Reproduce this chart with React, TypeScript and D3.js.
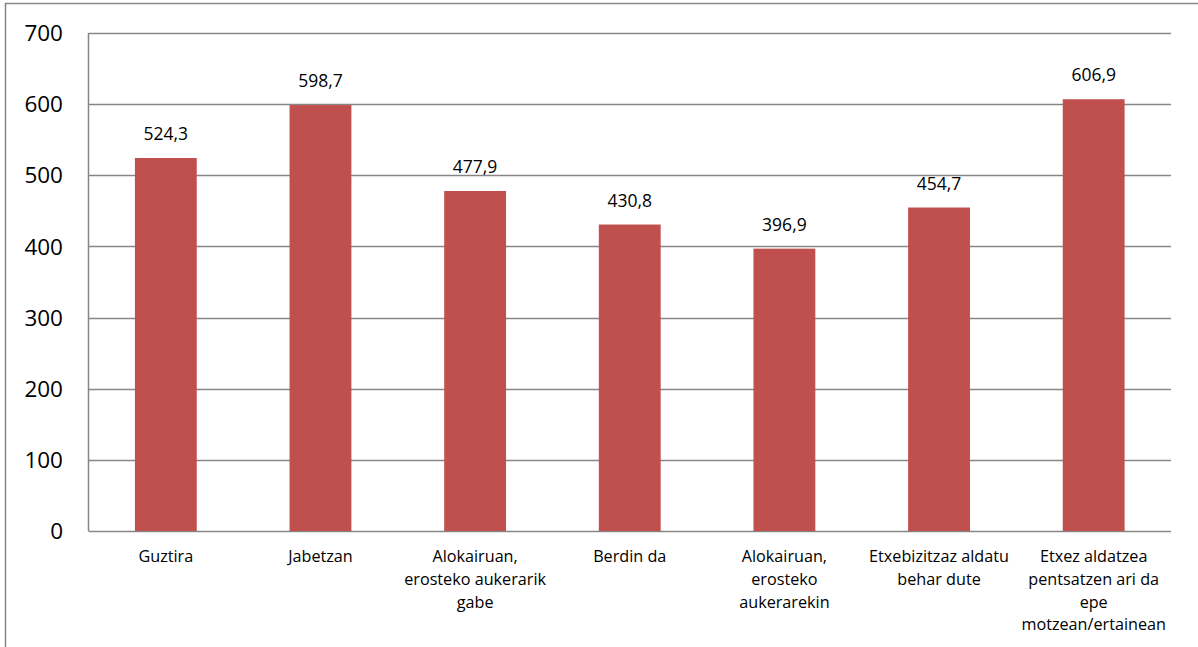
import React from "react";
import * as d3 from "d3";

const categories: string[][] = [
  ["Guztira"],
  ["Jabetzan"],
  ["Alokairuan,", "erosteko aukerarik", "gabe"],
  ["Berdin da"],
  ["Alokairuan,", "erosteko", "aukerarekin"],
  ["Etxebizitzaz aldatu", "behar dute"],
  ["Etxez aldatzea", "pentsatzen ari da", "epe", "motzean/ertainean"],
];
const values: number[] = [524.3, 598.7, 477.9, 430.8, 396.9, 454.7, 606.9];
const yTicks: number[] = [0, 100, 200, 300, 400, 500, 600, 700];

const W = 1198;
const H = 647;
const left = 88.5;
const right = 1171;
const top = 33;
const bottom = 531;
const font = "'Open Sans', sans-serif";

export default function App() {
  const idx = categories.map((_, i) => String(i));
  const x = d3.scaleBand<string>().domain(idx).range([left, right]).paddingInner(0.6).paddingOuter(0.3);
  const xc = d3.scaleBand<string>().domain(idx).range([left, right]);
  const y = d3.scaleLinear().domain([0, 700]).range([bottom, top]);
  const fmt = (v: number) => v.toFixed(1).replace(".", ",");
  return (
    <svg width={W} height={H} style={{ position: "absolute", left: 0, top: 0 }}>
      <rect x={0} y={0} width={W} height={H} fill="#fff" />
      <rect x={5.5} y={3.5} width={W + 10} height={H + 10} fill="none" stroke="#868686" strokeWidth={1.5} />
      {yTicks.map((t) => (
        <g key={t}>
          <line x1={left} x2={right} y1={Math.round(y(t)) + 0.5} y2={Math.round(y(t)) + 0.5} stroke="#868686" strokeWidth={1.5} />
          <text x={63} y={y(t)} dy="0.36em" textAnchor="end" fontSize={22.5} fontFamily={font} fill="#000">
            {t}
          </text>
        </g>
      ))}
      <line x1={left} x2={left} y1={top} y2={bottom} stroke="#868686" strokeWidth={1.5} />
      {values.map((v, i) => {
        const bx = x(String(i))!;
        const bw = x.bandwidth();
        return (
          <g key={i}>
            <rect x={bx} y={y(v)} width={bw} height={bottom - y(v)} fill="#C0504D" />
            <text x={bx + bw / 2} y={y(v) - 18} textAnchor="middle" fontSize={17.5} fontFamily={font} fill="#000">
              {fmt(v)}
            </text>
          </g>
        );
      })}
      {categories.map((lines, i) => {
        const cx = xc(String(i))! + xc.bandwidth() / 2;
        return (
          <text key={i} x={cx} textAnchor="middle" fontSize={16.2} fontFamily={font} fill="#000">
            {lines.map((l, j) => (
              <tspan key={j} x={cx} y={562 + j * 22.8}>
                {l}
              </tspan>
            ))}
          </text>
        );
      })}
    </svg>
  );
}
